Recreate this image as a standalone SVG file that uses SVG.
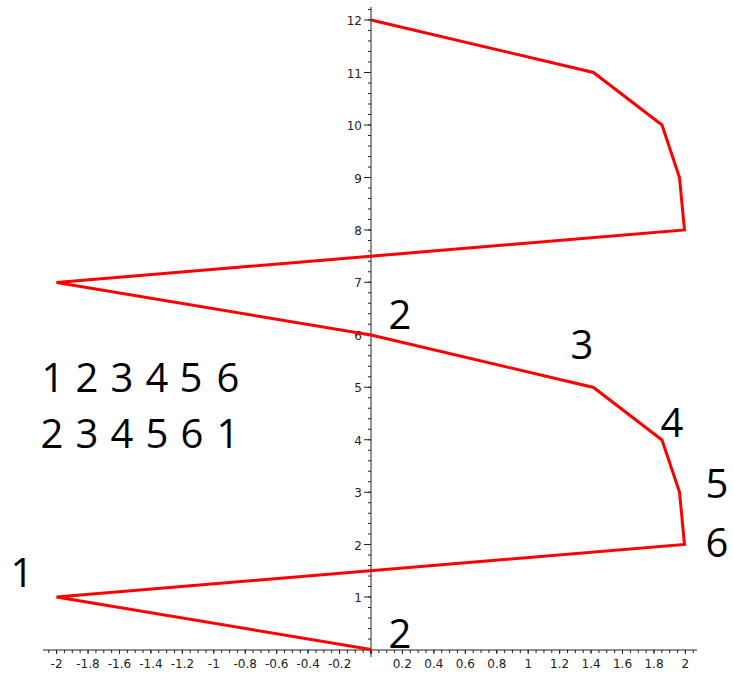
<svg xmlns="http://www.w3.org/2000/svg" width="733" height="673" viewBox="0 0 733 673">
<style>
.ax{stroke:#222;stroke-width:1;fill:none}
.tk{stroke:#222;fill:none}
.tl{font-family:"DejaVu Sans",sans-serif;font-size:12px;fill:#222}
.big{font-family:"Open Sans","Noto Sans",sans-serif;font-size:40px;fill:#000;text-anchor:middle}
.curve{stroke:#ff0000;stroke-width:3;fill:none;stroke-linejoin:miter}
</style>
<rect width="733" height="673" fill="#fff"/>
<g id="axes">
<line class="ax" x1="43" y1="650" x2="697" y2="650"/>
<line class="ax" x1="371" y1="7" x2="371" y2="657"/>
<line class="tk" x1="369.5" y1="650" x2="369.5" y2="8" stroke-width="3" stroke-dasharray="1 9.49"/>
<line class="tk" x1="367.5" y1="650" x2="367.5" y2="8" stroke-width="7" stroke-dasharray="1 51.45"/>
<line class="tk" x1="370.5" y1="651.5" x2="697" y2="651.5" stroke-width="3" stroke-dasharray="1 6.86"/>
<line class="tk" x1="371.5" y1="651.5" x2="43" y2="651.5" stroke-width="3" stroke-dasharray="1 6.86"/>
<line class="tk" x1="370.5" y1="652" x2="697" y2="652" stroke-width="4" stroke-dasharray="1 30.44"/>
<line class="tk" x1="371.5" y1="652" x2="43" y2="652" stroke-width="4" stroke-dasharray="1 30.44"/>
</g>
<g id="y-labels" class="tl" text-anchor="end">
<text x="362" y="602">1</text>
<text x="362" y="549.6">2</text>
<text x="362" y="497.2">3</text>
<text x="362" y="444.7">4</text>
<text x="362" y="392.3">5</text>
<text x="362" y="339.8">6</text>
<text x="362" y="287.4">7</text>
<text x="362" y="234.9">8</text>
<text x="362" y="182.5">9</text>
<text x="362" y="130">10</text>
<text x="362" y="77.6">11</text>
<text x="362" y="25.1">12</text>
</g>
<g id="x-labels" class="tl" text-anchor="middle">
<text x="56.6" y="668">-2</text>
<text x="88" y="668">-1.8</text>
<text x="119.5" y="668">-1.6</text>
<text x="150.9" y="668">-1.4</text>
<text x="182.4" y="668">-1.2</text>
<text x="213.8" y="668">-1</text>
<text x="245.2" y="668">-0.8</text>
<text x="276.7" y="668">-0.6</text>
<text x="308.1" y="668">-0.4</text>
<text x="339.6" y="668">-0.2</text>
<text x="402.4" y="668">0.2</text>
<text x="433.9" y="668">0.4</text>
<text x="465.3" y="668">0.6</text>
<text x="496.8" y="668">0.8</text>
<text x="528.2" y="668">1</text>
<text x="559.6" y="668">1.2</text>
<text x="591.1" y="668">1.4</text>
<text x="622.5" y="668">1.6</text>
<text x="654" y="668">1.8</text>
<text x="685.4" y="668">2</text>
</g>
<g id="curve">
<polyline class="curve" points="371,20 593.5,72.5 662,125 679.5,177.5 684.5,230 56.5,282.5 371,335 593.5,387.5 662,440 679.5,492 684.5,544.5 56.5,597 371,649.5"/>
</g>
<g id="labels">
<text class="big" x="22" y="587">1</text>
<text class="big" x="400" y="329">2</text>
<text class="big" x="582" y="359">3</text>
<text class="big" x="672" y="437">4</text>
<text class="big" x="717" y="498">5</text>
<text class="big" x="717" y="557">6</text>
<text class="big" x="400" y="648">2</text>
<text class="big" x="53 70 87 104.5 122 139.5 157 174 191 209.5 228" y="392">1 2 3 4 5 6</text>
<text class="big" x="52 69.5 87 104.5 122 139.5 157 174.5 192 210 228" y="448">2 3 4 5 6 1</text>
</g>
</svg>
